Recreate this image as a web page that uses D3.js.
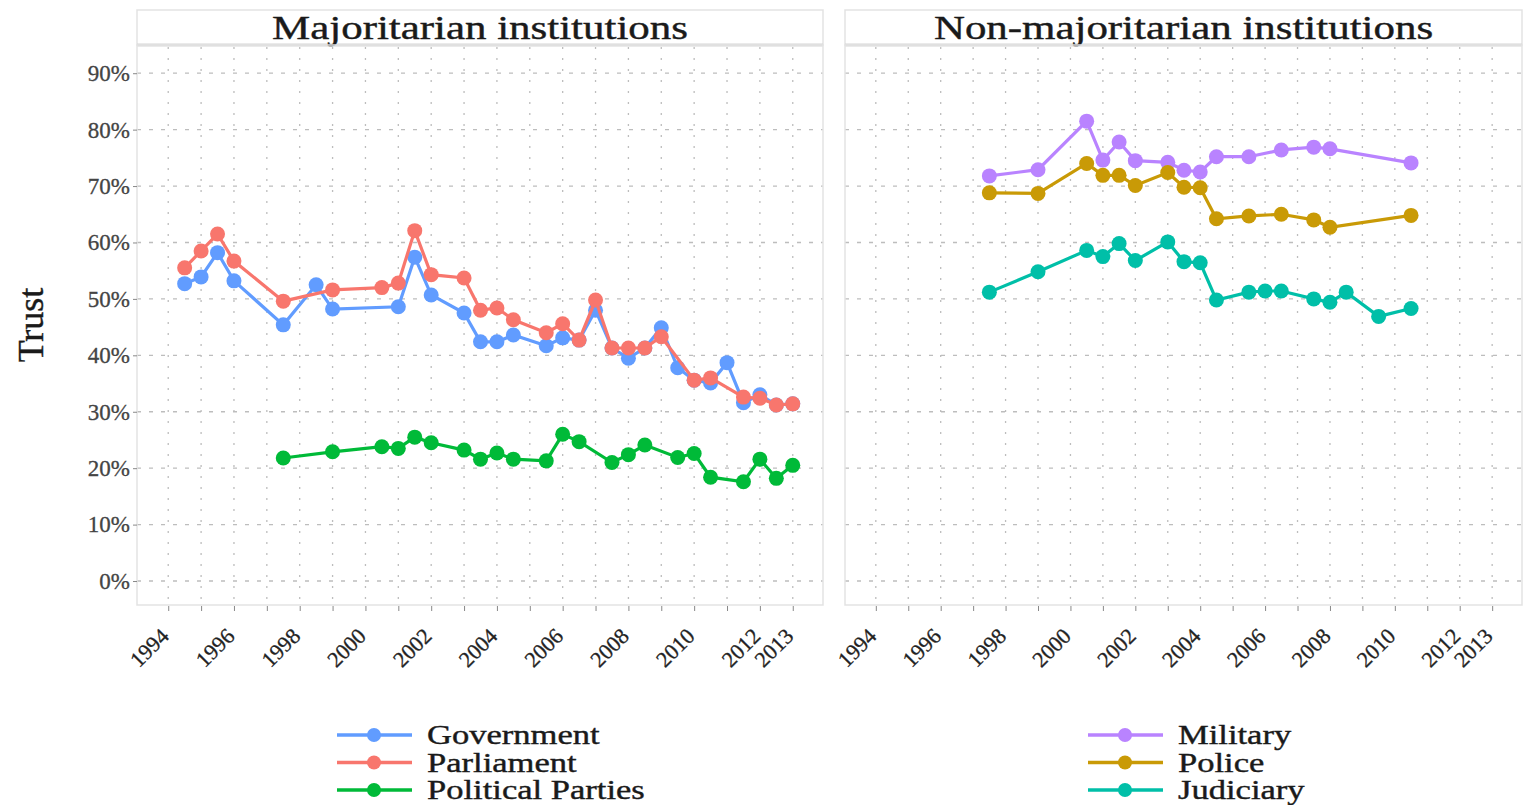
<!DOCTYPE html>
<html>
<head>
<meta charset="utf-8">
<script src="https://cdn.jsdelivr.net/npm/d3@7"></script>
<style>
  body { margin: 0; background: #fff; }
  text { font-family: "Liberation Serif", "DejaVu Serif", serif; }
</style>
</head>
<body>
<svg id="chart" width="1524" height="805"></svg>
<script>
// trust in institutions, survey waves (half-year resolution)
const govYears = [1994.5, 1995, 1995.5, 1996, 1997.5, 1998.5, 1999, 2001, 2001.5, 2002, 2003, 2003.5, 2004, 2004.5, 2005.5, 2006, 2006.5, 2007, 2007.5, 2008, 2008.5, 2009, 2009.5, 2010, 2010.5, 2011, 2011.5, 2012, 2012.5, 2013];
const govValues = [52.7, 53.9, 58.2, 53.2, 45.4, 52.5, 48.2, 48.6, 57.4, 50.7, 47.5, 42.4, 42.4, 43.6, 41.7, 43.1, 42.7, 48.0, 41.3, 39.5, 41.3, 44.9, 37.8, 35.6, 35.1, 38.7, 31.6, 33.0, 31.2, 31.4];

const parYears = [1994.5, 1995, 1995.5, 1996, 1997.5, 1999, 2000.5, 2001, 2001.5, 2002, 2003, 2003.5, 2004, 2004.5, 2005.5, 2006, 2006.5, 2007, 2007.5, 2008, 2008.5, 2009, 2010, 2010.5, 2011.5, 2012, 2012.5, 2013];
const parValues = [55.5, 58.5, 61.5, 56.7, 49.6, 51.6, 52.0, 52.8, 62.1, 54.3, 53.7, 48.0, 48.4, 46.3, 44.0, 45.6, 42.7, 49.8, 41.3, 41.3, 41.3, 43.3, 35.6, 36.0, 32.6, 32.4, 31.2, 31.4];

const partyYears = [1997.5, 1999, 2000.5, 2001, 2001.5, 2002, 2003, 2003.5, 2004, 2004.5, 2005.5, 2006, 2006.5, 2007.5, 2008, 2008.5, 2009.5, 2010, 2010.5, 2011.5, 2012, 2012.5, 2013];
const partyValues = [21.8, 22.9, 23.8, 23.5, 25.5, 24.5, 23.2, 21.6, 22.7, 21.6, 21.3, 26.0, 24.7, 21.0, 22.4, 24.1, 21.9, 22.6, 18.4, 17.6, 21.6, 18.2, 20.5];

const milYears = [1997.5, 1999, 2000.5, 2001, 2001.5, 2002, 2003, 2003.5, 2004, 2004.5, 2005.5, 2006.5, 2007.5, 2008, 2010.5];
const milValues = [71.8, 72.9, 81.5, 74.6, 77.8, 74.5, 74.2, 72.8, 72.5, 75.2, 75.2, 76.4, 76.9, 76.6, 74.1];

const polYears = [1997.5, 1999, 2000.5, 2001, 2001.5, 2002, 2003, 2003.5, 2004, 2004.5, 2005.5, 2006.5, 2007.5, 2008, 2010.5];
const polValues = [68.8, 68.7, 74.0, 71.9, 71.9, 70.1, 72.4, 69.8, 69.7, 64.2, 64.7, 65.0, 64.0, 62.7, 64.8];

const judYears = [1997.5, 1999, 2000.5, 2001, 2001.5, 2002, 2003, 2003.5, 2004, 2004.5, 2005.5, 2006, 2006.5, 2007.5, 2008, 2008.5, 2009.5, 2010.5];
const judValues = [51.2, 54.8, 58.6, 57.5, 59.8, 56.8, 60.1, 56.6, 56.4, 49.8, 51.2, 51.4, 51.4, 50.0, 49.4, 51.2, 46.9, 48.3];

const yearTicks = d3.range(1994, 2014);
const yearLabels = [1994, 1996, 1998, 2000, 2002, 2004, 2006, 2008, 2010, 2012, 2013];
const trustTicks = d3.range(0, 91, 10);

const panelTitles = ["Majoritarian institutions", "Non-majoritarian institutions"];

// series for each facet, drawn in this order
const panels = [
  {title: panelTitles[0], left: 137, right: 823, series: [
    {name: "Government", color: "#619CFF", years: govYears, values: govValues},
    {name: "Parliament", color: "#F8766D", years: parYears, values: parValues},
    {name: "Political Parties", color: "#00BA38", years: partyYears, values: partyValues}
  ]},
  {title: panelTitles[1], left: 845, right: 1522, series: [
    {name: "Military", color: "#B983FF", years: milYears, values: milValues},
    {name: "Police", color: "#C99A06", years: polYears, values: polValues},
    {name: "Judiciary", color: "#00BFA8", years: judYears, values: judValues}
  ]}
];

const svg = d3.select("#chart");
const stripTop = 10, plotTop = 45, plotBottom = 605;
const stretch = 1.3; // the picture's lettering is wider than native

const y = d3.scaleLinear().domain([-4.25, 95]).range([plotBottom, plotTop]);

panels.forEach(function(p, pi) {
  const x = d3.scaleLinear().domain([1993.05, 2013.92]).range([p.left, p.right]);
  const g = svg.append("g");

  // strip
  g.append("rect")
    .attr("x", p.left).attr("y", stripTop)
    .attr("width", p.right - p.left).attr("height", plotTop - stripTop)
    .attr("fill", "#fff").attr("stroke", "#e3e3e3").attr("stroke-width", 1.5);
  g.append("line")
    .attr("x1", p.left).attr("x2", p.right)
    .attr("y1", plotTop).attr("y2", plotTop)
    .attr("stroke", "#d6d6d6").attr("stroke-width", 3);
  g.append("text")
    .attr("transform", `translate(${(p.left + p.right) / 2},${plotTop - 6}) scale(${stretch},1)`)
    .attr("text-anchor", "middle")
    .attr("font-size", 33).attr("fill", "#1a1a1a")
    .attr("stroke", "#1a1a1a").attr("stroke-width", 0.4)
    .text(p.title);

  // grid
  g.selectAll(".vgrid").data(yearTicks).enter().append("line")
    .attr("x1", d => x(d)).attr("x2", d => x(d))
    .attr("y1", plotTop + 2).attr("y2", plotBottom)
    .attr("stroke", "#bdbdbd").attr("stroke-width", 1.3)
    .attr("stroke-dasharray", "2,9");
  g.selectAll(".hgrid").data(trustTicks).enter().append("line")
    .attr("x1", p.left).attr("x2", p.right)
    .attr("y1", d => y(d)).attr("y2", d => y(d))
    .attr("stroke", "#bdbdbd").attr("stroke-width", 1.3)
    .attr("stroke-dasharray", "4,8");

  // panel border
  g.append("rect")
    .attr("x", p.left).attr("y", plotTop)
    .attr("width", p.right - p.left).attr("height", plotBottom - plotTop)
    .attr("fill", "none").attr("stroke", "#e3e3e3").attr("stroke-width", 1.5);

  // x axis
  const xAxis = d3.axisBottom(x).tickValues(yearTicks).tickSize(5)
    .tickFormat(d => yearLabels.includes(d) ? d : "");
  const ax = g.append("g").attr("transform", `translate(0,${plotBottom + 1})`).call(xAxis);
  ax.select(".domain").remove();
  ax.selectAll(".tick line").attr("stroke", "#888");
  ax.selectAll(".tick text")
    .attr("font-family", "Liberation Serif, serif")
    .attr("font-size", 22).attr("fill", "#222")
    .attr("stroke", "#222").attr("stroke-width", 0.3)
    .attr("text-anchor", "end")
    .attr("x", 0).attr("y", 0).attr("dy", "0.35em")
    .attr("transform", "translate(-4,26) rotate(-45)");

  // y axis
  if (pi === 0) {
    const yAxis = d3.axisLeft(y).tickValues(trustTicks).tickSize(4).tickFormat(d => d + "%");
    const ay = g.append("g").attr("transform", `translate(${p.left},0)`).call(yAxis);
    ay.select(".domain").remove();
    ay.selectAll(".tick line").attr("stroke", "#888");
    ay.selectAll(".tick text")
      .attr("font-family", "Liberation Serif, serif")
      .attr("font-size", 23).attr("fill", "#444")
      .attr("stroke", "#444").attr("stroke-width", 0.3).attr("x", -7);
  }

  // series
  const line = d3.line().x(d => x(d[0])).y(d => y(d[1]));
  p.series.forEach(function(s) {
    const pts = s.years.map((yr, i) => [yr, s.values[i]]);
    g.append("path").datum(pts)
      .attr("d", line).attr("fill", "none")
      .attr("stroke", s.color).attr("stroke-width", 3.2);
    g.selectAll(null).data(pts).enter().append("circle")
      .attr("cx", d => x(d[0])).attr("cy", d => y(d[1]))
      .attr("r", 7.5).attr("fill", s.color);
  });

  // legend
  const legX = pi === 0 ? 337 : 1088;
  const leg = g.append("g").attr("transform", `translate(${legX},735)`);
  p.series.forEach(function(s, i) {
    const row = leg.append("g").attr("transform", `translate(0,${i * 27.5})`);
    row.append("line").attr("x1", 0).attr("x2", 75).attr("y1", 0).attr("y2", 0)
      .attr("stroke", s.color).attr("stroke-width", 3.5);
    row.append("circle").attr("cx", 37).attr("cy", 0).attr("r", 7).attr("fill", s.color);
    row.append("text")
      .attr("transform", `translate(90,0) scale(1.28,1)`)
      .attr("dy", "0.35em")
      .attr("font-size", 27).attr("fill", "#1a1a1a")
      .attr("stroke", "#1a1a1a").attr("stroke-width", 0.4)
      .text(s.name);
  });
});

// y axis title
svg.append("text")
  .attr("transform", "translate(43,325) rotate(-90)")
  .attr("text-anchor", "middle")
  .attr("font-size", 36).attr("fill", "#1a1a1a")
  .attr("stroke", "#1a1a1a").attr("stroke-width", 0.4)
  .text("Trust");
</script>
</body>
</html>
